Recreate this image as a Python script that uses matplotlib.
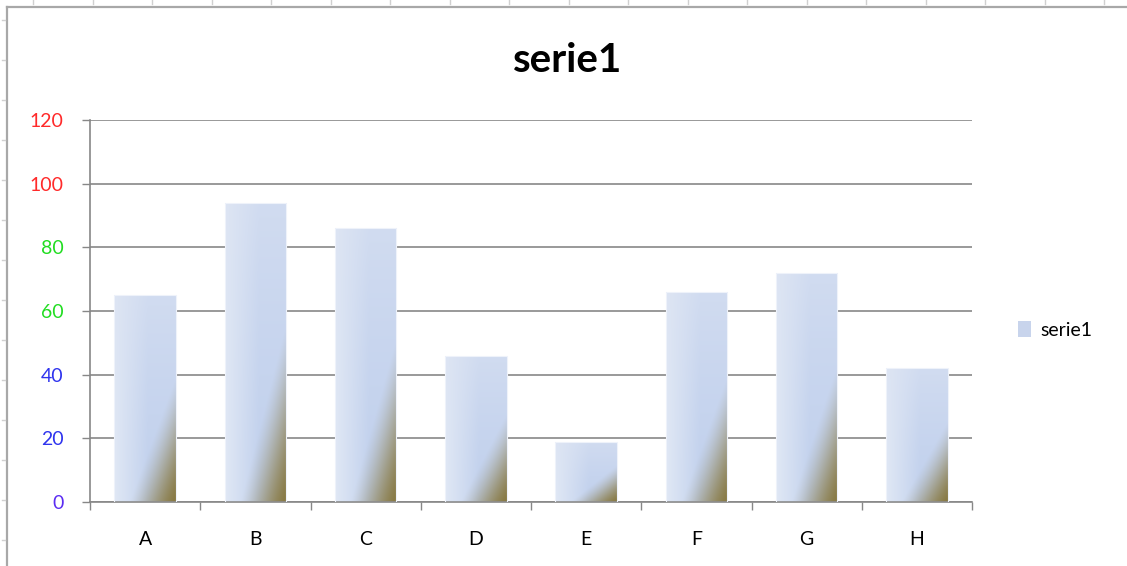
import numpy as np
import matplotlib
matplotlib.use("Agg")
import matplotlib.pyplot as plt
from matplotlib.lines import Line2D
from matplotlib.patches import Patch

# data
categories = ["A", "B", "C", "D", "E", "F", "G", "H"]
values = [65, 94, 86, 46, 19, 66, 72, 42]
series_name = "serie1"
y_ticks = [0, 20, 40, 60, 80, 100, 120]
y_tick_colors = ["#5b2cf2", "#2f34ee", "#2f34ee", "#22dd22", "#22dd22", "#ff2a2a", "#ff2a2a"]

plt.rcParams["font.family"] = ["Lato", "DejaVu Sans"]
GRID = "#878787"

def bar_gradient(nx=120, ny=240):
    #excel style fill: light blue, olive fading out of the bottom right corner
    u = np.linspace(0, 1, nx)[None, :]
    v = np.linspace(0, 1, ny)[:, None]
    left = np.array([0.88, 0.91, 0.96])
    mid = np.array([0.76, 0.82, 0.93])
    t = np.clip(u / 0.55, 0, 1)[..., None]
    base = left * (1 - t) + mid * t
    top = np.array([0.86, 0.89, 0.95])
    s = (v ** 1.5 * 0.6)[..., None]
    base = base * (1 - s) + top * s
    d = (1 - u) / 0.75 + v / 0.6
    w = np.clip(1 - d, 0, 1)
    w = (0.5 * w + 0.5 * w * w * (3 - 2 * w))[..., None]
    olive = np.array([0.53, 0.47, 0.25])
    return base * (1 - w) + olive * w

fig = plt.figure(figsize=(11.27, 5.66), dpi=100)
ax = fig.add_axes([90/1127, 1-502/566, 882/1127, 382/566])

x = np.arange(len(categories))
bars = ax.bar(x, values, width=0.56, facecolor="none", edgecolor="#eef2fa", linewidth=0.8, zorder=3)
img = bar_gradient()
for b in bars:
    x0 = b.get_x()
    im = ax.imshow(img, origin="lower", aspect="auto", interpolation="bilinear",
                   extent=[x0, x0 + b.get_width(), 0, b.get_height()], zorder=2)
    im.set_clip_path(b)

ax.set_xlim(-0.5, len(categories) - 0.5)
ax.set_ylim(0, 120)

ax.set_yticks(y_ticks)
ax.set_yticklabels([str(t) for t in y_ticks], fontsize=14)
for lab, c in zip(ax.get_yticklabels(), y_tick_colors):
    lab.set_color(c)
ax.tick_params(axis="y", length=6, width=1.0, color=GRID, pad=13)

ax.set_xticks(x)
ax.set_xticklabels(categories, fontsize=14)
ax.tick_params(axis="x", which="major", length=0, pad=21)
ax.set_xticks(np.arange(len(categories) + 1) - 0.5, minor=True)
ax.tick_params(axis="x", which="minor", length=6, width=1.0, color=GRID)

ax.yaxis.grid(True, color=GRID, linewidth=1.2)
ax.set_axisbelow(True)
for side in ["top", "right"]:
    ax.spines[side].set_visible(False)
for side in ["left", "bottom"]:
    ax.spines[side].set_color(GRID)
    ax.spines[side].set_linewidth(1.2)

fig.text(568/1127, 1-60/566, series_name, ha="center", va="center", fontsize=29, fontweight="bold")

fig.legend(handles=[Patch(facecolor="#c8d4ec", edgecolor="none", label=series_name)],
           loc="center left", bbox_to_anchor=(1000/1127, 1-330/566), frameon=False,
           fontsize=14, handlelength=0.7, handleheight=0.9, handletextpad=0.5)

# outer frame of the screenshot
fig.add_artist(Line2D([7/1127, 7/1127], [0, 1-7/566], transform=fig.transFigure, color="#a8a8a8", lw=1.6))
fig.add_artist(Line2D([7/1127, 1], [1-7/566, 1-7/566], transform=fig.transFigure, color="#a8a8a8", lw=1.6))
for px in np.arange(33, 1127, 59.5):
    fig.add_artist(Line2D([px/1127, px/1127], [1, 1-4/566], transform=fig.transFigure, color="#d0d0d0", lw=1))
for py in np.arange(20, 566, 40):
    fig.add_artist(Line2D([2/1127, 5/1127], [1-py/566, 1-py/566], transform=fig.transFigure, color="#d0d0d0", lw=1))

fig.savefig("out.png", dpi=100)
